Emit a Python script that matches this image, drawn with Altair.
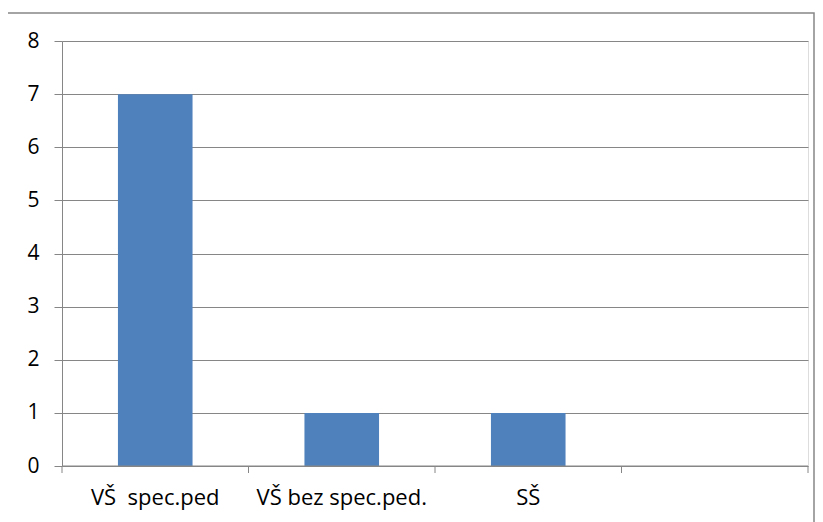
import altair as alt
import pandas as pd

categories = ["VŠ\u00a0 spec.ped", "VŠ bez spec.ped.", "SŠ", ""]
values = [7, 1, 1, None]
y_ticks = [0, 1, 2, 3, 4, 5, 6, 7, 8]
edges = [0, 1, 2, 3, 4]

W, H = 746, 425
FONT = "Open Sans"
GRAY = "#868686"

df = pd.DataFrame({"cat": categories, "val": values})

bars = alt.Chart(df).mark_bar(color="#4F81BD", width=alt.RelativeBandSize(0.4)).encode(
    x=alt.X("cat:N", sort=categories,
            scale=alt.Scale(domain=categories, paddingInner=0, paddingOuter=0),
            axis=alt.Axis(title=None, labelAngle=0, ticks=False, domain=False,
                          labelFont=FONT, labelFontSize=22, labelColor="#000000",
                          labelPadding=21)),
    y=alt.Y("val:Q", scale=alt.Scale(domain=[0, 8], nice=False),
            axis=alt.Axis(title=None, values=y_ticks, grid=True, gridColor=GRAY,
                          domainColor=GRAY, tickColor=GRAY, tickSize=8,
                          labelFont=FONT, labelFontSize=21, labelColor="#000000",
                          labelPadding=15)),
)

ticks = alt.Chart(pd.DataFrame({"e": edges})).mark_rule(color=GRAY, strokeWidth=1).encode(
    x=alt.X("e:Q", scale=alt.Scale(domain=[0, 4], nice=False), axis=None),
    y=alt.value(H),
    y2=alt.value(H + 7),
)

baseline = alt.Chart(pd.DataFrame({"a": [0]})).mark_rule(color=GRAY, strokeWidth=1).encode(
    x=alt.value(0), x2=alt.value(W), y=alt.value(H)
)

border = alt.Chart(pd.DataFrame({"a": [0]})).mark_rect(
    fill=None, stroke=GRAY, strokeWidth=1.5
).encode(
    x=alt.value(-55), x2=alt.value(752), y=alt.value(-28), y2=alt.value(600)
)

chart = alt.layer(bars, baseline, ticks, border).resolve_scale(x="independent").properties(
    width=W, height=H,
    autosize=alt.AutoSizeParams(type="none"),
    padding={"left": 54, "top": 33, "right": 7, "bottom": 56},
).configure_view(stroke=None).configure(background="white")

chart.save("out.html", embed_options={"renderer": "svg", "actions": False})
